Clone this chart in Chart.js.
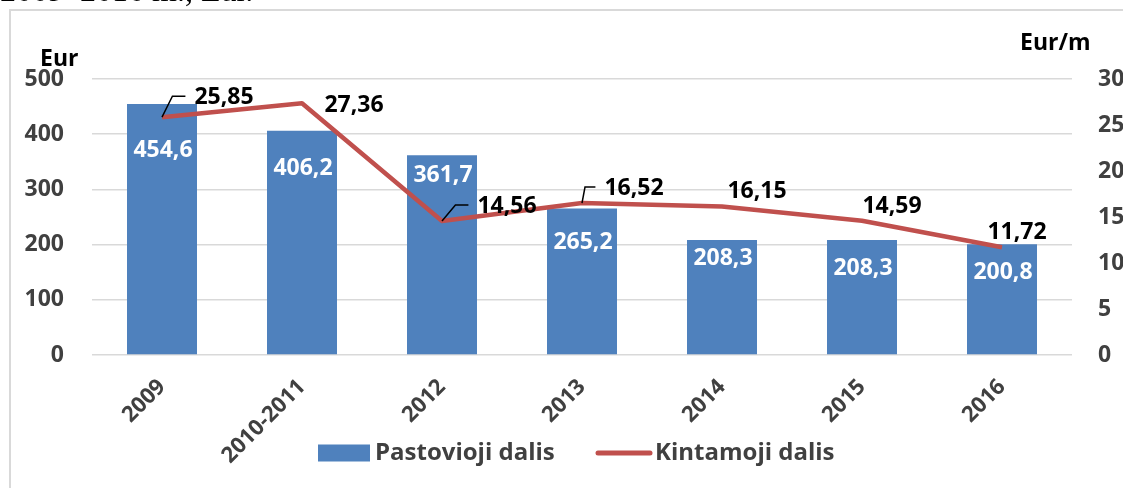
<!DOCTYPE html>
<html>
<head>
<meta charset="utf-8">
<script src="https://cdn.jsdelivr.net/npm/chart.js@4.4.0/dist/chart.umd.min.js"></script>
<style>
	html, body { margin: 0; padding: 0; background: #fff; }
	#wrap { position: relative; width: 1123px; height: 488px; overflow: hidden; }
</style>
</head>
<body>
<div id="wrap"><canvas id="chart" width="1123" height="488"></canvas></div>
<script>
// data
var years = ['2009', '2010-2011', '2012', '2013', '2014', '2015', '2016'];
var fixedPart = [454.6, 406.2, 361.7, 265.2, 208.3, 208.3, 200.8];
var variablePart = [25.85, 27.36, 14.56, 16.52, 16.15, 14.59, 11.72];
var leftTicks = [0, 100, 200, 300, 400, 500];
var rightTicks = [0, 5, 10, 15, 20, 25, 30];

// label nudges (as moved by hand in the original)
var barLabelDrop = [46, 38, 20, 34, 18, 28, 28];
var lineLabelShift = [[62, -20], [52, 2], [65, -15], [52, -15], [35, -15], [30, -14], [15, -15]];
var lineLeader = [true, false, true, true, false, false, false];

var BLUE = '#4F81BD';
var RED = '#C0504D';
var GREY = '#404040';
var FONT = '"Open Sans", sans-serif';

function fmt(v, d) {
	return v.toFixed(d).replace('.', ',');
}

var extras = {
	id: 'extras',
	beforeDraw: function(c) {
		var ctx = c.ctx;
		ctx.save();
		// frame
		ctx.strokeStyle = '#d9d9d9';
		ctx.lineWidth = 2;
		ctx.strokeRect(10, 10, 1300, 700);
		// caption cut off at the top of the page
		ctx.fillStyle = '#000';
		ctx.font = '32px "Liberation Serif", serif';
		ctx.textBaseline = 'alphabetic';
		ctx.textAlign = 'left';
		ctx.fillText('2009–2016 m., Eur.', 0, 1);
		ctx.restore();
	},
	afterDatasetsDraw: function(c) {
		var ctx = c.ctx;
		ctx.save();
		ctx.textAlign = 'center';
		ctx.textBaseline = 'middle';

		// bar values
		ctx.font = 'bold 23px ' + FONT;
		ctx.fillStyle = '#fff';
		c.getDatasetMeta(0).data.forEach(function(bar, i) {
			ctx.fillText(fmt(fixedPart[i], 1), bar.x + 1, bar.y + barLabelDrop[i]);
		});

		// line values
		ctx.fillStyle = '#000';
		ctx.strokeStyle = '#000';
		ctx.lineWidth = 1.5;
		c.getDatasetMeta(1).data.forEach(function(pt, i) {
			var lx = pt.x + lineLabelShift[i][0];
			var ly = pt.y + lineLabelShift[i][1];
			var txt = fmt(variablePart[i], 2);
			ctx.fillText(txt, lx, ly);
			if (lineLeader[i]) {
				var w = ctx.measureText(txt).width;
				var ex = lx - w / 2 - 9;
				var ey = ly - 1;
				var kx = Math.max(pt.x + 3, ex - 13);
				ctx.beginPath();
				ctx.moveTo(pt.x, pt.y);
				ctx.lineTo(kx, ey);
				ctx.lineTo(ex, ey);
				ctx.stroke();
			}
		});
		ctx.restore();
	},
	afterDraw: function(c) {
		var ctx = c.ctx;
		ctx.save();
		// axis titles
		ctx.font = 'bold 23px ' + FONT;
		ctx.fillStyle = '#000';
		ctx.textBaseline = 'middle';
		ctx.textAlign = 'left';
		ctx.fillText('Eur', 40, 59);
		ctx.fillText('Eur/m', 1020, 43);

		// legend
		var ds = c.data.datasets;
		var y = 453;
		ctx.font = 'bold 24px ' + FONT;
		ctx.fillStyle = ds[0].backgroundColor;
		ctx.fillRect(318, y - 8.5, 52, 17);
		ctx.fillStyle = GREY;
		ctx.fillText(ds[0].label, 375, y);
		ctx.strokeStyle = ds[1].borderColor;
		ctx.lineWidth = 5;
		ctx.lineCap = 'round';
		ctx.beginPath();
		ctx.moveTo(598, y);
		ctx.lineTo(650, y);
		ctx.stroke();
		ctx.fillText(ds[1].label, 655, y);
		ctx.restore();
	}
};

var chart = new Chart(document.getElementById('chart'), {
	type: 'bar',
	data: {
		labels: years,
		datasets: [{
			label: 'Pastovioji dalis',
			data: fixedPart,
			backgroundColor: BLUE,
			yAxisID: 'y',
			categoryPercentage: 1,
			barPercentage: 0.5,
			order: 1
		}, {
			type: 'line',
			label: 'Kintamoji dalis',
			data: variablePart,
			borderColor: RED,
			backgroundColor: RED,
			borderWidth: 4.5,
			pointRadius: 0,
			tension: 0,
			borderJoinStyle: 'round',
			yAxisID: 'y1',
			order: 0
		}]
	},
	options: {
		responsive: false,
		animation: false,
		devicePixelRatio: 1,
		layout: { padding: { top: 79, left: 0, right: 0, bottom: 0 } },
		plugins: {
			legend: { display: false },
			tooltip: { enabled: false }
		},
		scales: {
			x: {
				grid: { display: false, drawTicks: false },
				border: { display: false },
				ticks: {
					maxRotation: 45,
					minRotation: 45,
					padding: 19,
					color: GREY,
					font: { family: FONT, size: 22, weight: 'bold' }
				},
				afterFit: function(s) { s.height = 133; }
			},
			y: {
				position: 'left',
				min: 0,
				max: 500,
				afterBuildTicks: function(s) { s.ticks = leftTicks.map(function(v) { return { value: v }; }); },
				grid: { color: '#d9d9d9', lineWidth: 1.5, drawTicks: false },
				border: { display: false },
				ticks: {
					padding: 28,
					color: GREY,
					font: { family: FONT, size: 23, weight: 'bold' }
				},
				afterFit: function(s) { s.width = 92; }
			},
			y1: {
				position: 'right',
				min: 0,
				max: 30,
				afterBuildTicks: function(s) { s.ticks = rightTicks.map(function(v) { return { value: v }; }); },
				grid: { display: false, drawTicks: false },
				border: { display: false },
				ticks: {
					padding: 26,
					color: GREY,
					font: { family: FONT, size: 23, weight: 'bold' }
				},
				afterFit: function(s) { s.width = 51; }
			}
		}
	},
	plugins: [extras]
});
</script>
</body>
</html>
